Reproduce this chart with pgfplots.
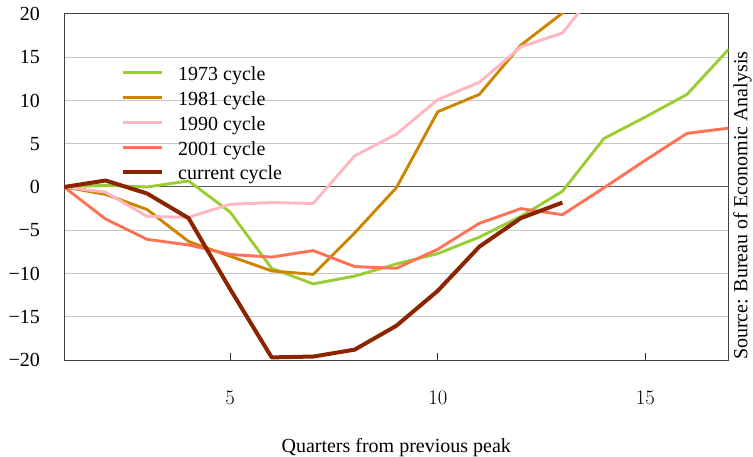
\documentclass[border=0pt]{standalone}
\usepackage{fontspec}
\setmainfont{Liberation Serif}
\usepackage{pgfplots}
\pgfplotsset{compat=1.18}
\definecolor{c73}{HTML}{9ACD32}
\definecolor{c81}{HTML}{CD8500}
\definecolor{c90}{HTML}{FFB6C1}
\definecolor{c01}{HTML}{FF7256}
\definecolor{ccur}{HTML}{8B2500}
\begin{document}
\begin{tikzpicture}
\begin{axis}[
  scale only axis, width=664.5bp, height=346bp,
  xmin=1, xmax=17, ymin=-20, ymax=20,
  xtick={5,10,15}, ytick={-20,-15,...,20},
  yticklabels={−20,−15,−10,−5,0,5,10,15,20},
  font=\fontsize{20bp}{24bp}\selectfont,
  xticklabel style={inner sep=0pt, anchor=north, yshift=-31bp},
  yticklabel style={inner sep=0pt, anchor=east, xshift=-24bp},
  tick align=inside, xtick pos=bottom, ytick pos=left,
  ytick style={draw=none},
  major tick length=7bp, xtick style={black!80, line width=0.8bp},
  ymajorgrids, grid style={black!22, line width=1bp},
  extra y ticks={0}, extra y tick labels={},
  extra y tick style={grid style={black!65, line width=1bp}},
  axis line style={black!75, line width=1bp},
  xlabel={Quarters from previous peak},
  xlabel style={at={(rel axis cs:0.5,0)}, anchor=north, yshift=-78bp, inner sep=0pt},
  legend style={draw=none, fill=none, at={(rel axis cs:0.0858,0.8477)}, anchor=north west,
    inner sep=0pt, row sep=6.75bp,
    nodes={inner sep=0pt, text height=14bp, text depth=4bp},
    /tikz/every odd column/.append style={column sep=14bp}},
  legend cell align=left,
  legend image code/.code={\draw[#1] (0bp,3bp) -- (39bp,3bp);},
  every axis plot/.append style={line width=2.9bp, line join=round},
]
\addplot[c73] coordinates {(1,0) (2,0.2) (3,0) (4,0.7) (5,-2.9) (6,-9.4) (7,-11.2) (8,-10.3)
  (9,-8.9) (10,-7.7) (11,-5.8) (12,-3.4) (13,-0.5) (14,5.6) (15,8.1) (16,10.7) (17,15.9)};
\addlegendentry{1973 cycle}
\addplot[c81] coordinates {(1,0) (2,-0.85) (3,-2.6) (4,-6.3) (5,-8.0) (6,-9.7) (7,-10.1) (8,-5.3)
  (9,-0.1) (10,8.7) (11,10.7) (12,16.4) (13,20.1) (14,23.5)};
\addlegendentry{1981 cycle}
\addplot[c90] coordinates {(1,0) (2,-0.6) (3,-3.4) (4,-3.5) (5,-2.0) (6,-1.8) (7,-1.9) (8,3.6)
  (9,6.1) (10,10.1) (11,12.1) (12,16.2) (13,17.8) (14,23.8)};
\addlegendentry{1990 cycle}
\addplot[c01] coordinates {(1,0) (2,-3.7) (3,-6.05) (4,-6.7) (5,-7.8) (6,-8.1) (7,-7.35) (8,-9.2)
  (9,-9.4) (10,-7.2) (11,-4.2) (12,-2.5) (13,-3.2) (14,-0.1) (15,3.1) (16,6.2) (17,6.8)};
\addlegendentry{2001 cycle}
\addplot[ccur, line width=4bp] coordinates {(1,0) (2,0.75) (3,-0.75) (4,-3.6) (5,-11.8) (6,-19.7)
  (7,-19.6) (8,-18.8) (9,-16.05) (10,-12.0) (11,-6.9) (12,-3.6) (13,-1.8)};
\addlegendentry{current cycle}
\end{axis}
\node[rotate=90, anchor=north west, inner sep=0pt, font=\fontsize{20bp}{24bp}\selectfont]
  at (669bp,0) {Source: Bureau of Economic Analysis};
\pgfresetboundingbox
\path[use as bounding box] (-64bp,-97bp) rectangle (689bp,360bp);
\end{tikzpicture}
\end{document}
